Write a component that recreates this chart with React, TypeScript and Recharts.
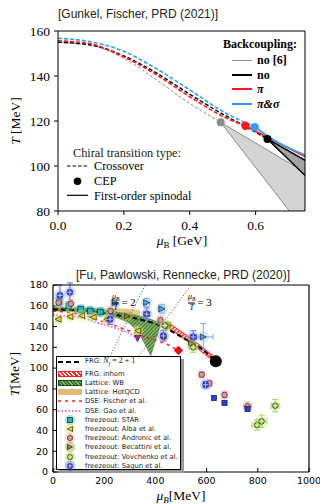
import { ComposedChart, Line, Area, Scatter, XAxis, YAxis, ErrorBar } from 'recharts';

const SERIF = '"Liberation Serif", "DejaVu Serif", serif';
const SANS = '"DejaVu Sans", sans-serif';
const TITLE = '"Liberation Sans", Arial, sans-serif';

// ---- top panel (Gunkel, Fischer), mu in GeV, T in MeV
const gevTicks = [0, 0.2, 0.4, 0.6];
const tTicksTop = [80, 100, 120, 140, 160];

const crossNo6 = [
  { mu: 0, T: 155 }, { mu: 0.095, T: 153.8 }, { mu: 0.196, T: 148.2 },
  { mu: 0.297, T: 138.5 }, { mu: 0.398, T: 128 }, { mu: 0.494, T: 119.4 },
];
const crossNo = [
  { mu: 0, T: 155 }, { mu: 0.095, T: 153.9 }, { mu: 0.196, T: 149.2 }, { mu: 0.297, T: 141.5 },
  { mu: 0.398, T: 132.1 }, { mu: 0.5, T: 123.1 }, { mu: 0.57, T: 117.5 }, { mu: 0.636, T: 112 },
];
const crossPi = [
  { mu: 0, T: 155.6 }, { mu: 0.095, T: 154.4 }, { mu: 0.196, T: 148.8 }, { mu: 0.297, T: 140.7 },
  { mu: 0.398, T: 131 }, { mu: 0.5, T: 122.1 }, { mu: 0.569, T: 117.9 },
];
const crossPiSigma = [
  { mu: 0, T: 156.8 }, { mu: 0.095, T: 155.3 }, { mu: 0.196, T: 151.2 }, { mu: 0.297, T: 143.4 },
  { mu: 0.398, T: 134 }, { mu: 0.5, T: 124.3 }, { mu: 0.597, T: 117.3 },
];
const spinPi = [{ mu: 0.569, T: 117.9 }, { mu: 0.636, T: 112.7 }, { mu: 0.75, T: 104.3 }];
const spinPiSigma = [{ mu: 0.597, T: 117.3 }, { mu: 0.652, T: 111.8 }, { mu: 0.75, T: 104.9 }];
const spinNoUpper = [{ mu: 0.636, T: 112 }, { mu: 0.75, T: 102.6 }];
const spinNoLower = [{ mu: 0.636, T: 112 }, { mu: 0.75, T: 95.8 }];
const bandNo6 = [{ mu: 0.494, lo: 119.4, hi: 119.4 }, { mu: 0.75, lo: 71, hi: 97.2 }];
const bandNo = [{ mu: 0.636, lo: 112, hi: 112 }, { mu: 0.75, lo: 95.8, hi: 102.6 }];

// ---- bottom panel (Fu, Pawlowski, Rennecke), mu in MeV
const mevTicks = [0, 200, 400, 600, 800, 1000];
const tTicksBot = [0, 20, 40, 60, 80, 100, 120, 140, 160, 180];

const ratio2 = [{ mu: 0, T: 0 }, { mu: 360, T: 180 }];
const ratio3 = [{ mu: 0, T: 0 }, { mu: 540, T: 180 }];
const frgLine = [
  { mu: 0, T: 156.5 }, { mu: 120, T: 155.3 }, { mu: 250, T: 151 }, { mu: 330, T: 147.5 },
  { mu: 418, T: 141 }, { mu: 509, T: 129 }, { mu: 575, T: 119.5 }, { mu: 636, T: 106.5 },
];
const frgCep = [{ mu: 636, T: 106.5 }];
const frgInhom = [
  { mu: 452, lo: 138.5, hi: 143.5 }, { mu: 540, lo: 123.5, hi: 128.5 }, { mu: 628, lo: 106.5, hi: 111.5 },
];
const wbBand = [
  { mu: 0, lo: 155.5, hi: 158.5 }, { mu: 150, lo: 154, hi: 157.5 }, { mu: 250, lo: 149, hi: 154 },
  { mu: 300, lo: 143, hi: 152 }, { mu: 340, lo: 132, hi: 150 }, { mu: 382, lo: 112, hi: 147 },
  { mu: 418, lo: 140, hi: 144 },
];
const hotqcdBand = [
  { mu: 0, lo: 154, hi: 159.5 }, { mu: 100, lo: 153, hi: 159 }, { mu: 200, lo: 150, hi: 158 },
  { mu: 280, lo: 146, hi: 157.5 }, { mu: 340, lo: 142, hi: 156 },
];
const dseFischer = [
  { mu: 0, T: 155 }, { mu: 100, T: 152 }, { mu: 200, T: 144.5 }, { mu: 262, T: 139 },
  { mu: 366, T: 129.5 }, { mu: 444, T: 123 }, { mu: 490, T: 117 },
];
const dseFischerCep = [{ mu: 490, T: 117 }];
const dseGao = [
  { mu: 0, T: 151 }, { mu: 100, T: 149 }, { mu: 183, T: 143 }, { mu: 250, T: 138 },
  { mu: 288, T: 134.5 }, { mu: 330, T: 128.5 },
];
const dseGaoCep = [{ mu: 330, T: 128.5 }];

const starPts = [
  { mu: 24, T: 164, dMu: 4, dT: 4 }, { mu: 62, T: 160, dMu: 4, dT: 4 }, { mu: 108, T: 156.5, dMu: 5, dT: 4 },
  { mu: 145, T: 155, dMu: 6, dT: 4 }, { mu: 185, T: 154, dMu: 7, dT: 4 },
];
const albaPts = [
  { mu: 20, T: 147, dMu: 3, dT: 2 }, { mu: 66, T: 149.5, dMu: 3, dT: 2 }, { mu: 112, T: 150.5, dMu: 3, dT: 2 },
  { mu: 157, T: 149, dMu: 4, dT: 2 }, { mu: 210, T: 147, dMu: 4, dT: 2 }, { mu: 331, T: 136, dMu: 6, dT: 3 },
];
const andronicPts = [
  { mu: 22, T: 163, dMu: 4, dT: 4 }, { mu: 70, T: 162, dMu: 4, dT: 4 }, { mu: 225, T: 155, dMu: 6, dT: 4 },
  { mu: 420, T: 146, dMu: 8, dT: 4 }, { mu: 432, T: 130, dMu: 8, dT: 4 }, { mu: 581, T: 93.7, dMu: 8, dT: 3 },
  { mu: 611, T: 85.4, dMu: 8, dT: 3 }, { mu: 670, T: 74.1, dMu: 8, dT: 3 }, { mu: 760, T: 63.2, dMu: 15, dT: 4 },
];
const becattiniPts = [
  { mu: 290, T: 150, dMu: 5, dT: 3 }, { mu: 450, T: 141, dMu: 8, dT: 3 }, { mu: 540, T: 124, dMu: 8, dT: 4 },
];
const vovchenkoPts = [
  { mu: 437, T: 141, dMu: 12, dT: 4 }, { mu: 548, T: 120, dMu: 15, dT: 5 }, { mu: 797, T: 45.2, dMu: 20, dT: 5 },
  { mu: 815, T: 48.8, dMu: 20, dT: 6 }, { mu: 868, T: 63.8, dMu: 15, dT: 6 },
];
const sagunPts = [
  { mu: 27, T: 170, dMu: 4, dT: 10 }, { mu: 66, T: 173, dMu: 3, dT: 9 }, { mu: 223, T: 147, dMu: 8, dT: 5 },
  { mu: 366, T: 152, dMu: 12, dT: 6 }, { mu: 431, T: 131, dMu: 10, dT: 5 }, { mu: 548, T: 130, dMu: 12, dT: 6 },
  { mu: 596, T: 84, dMu: 8, dT: 3 },
];
const blueSquarePts = [{ mu: 629, T: 71.2, dMu: 0, dT: 0 }, { mu: 670, T: 66.4, dMu: 0, dT: 0 }, { mu: 760, T: 60.6, dMu: 0, dT: 0 }];
const lightBluePts = [
  { mu: 242, T: 163, dMu: 6, dT: 3 }, { mu: 366, T: 163, dMu: 12, dT: 4 },
  { mu: 425, T: 157, dMu: 10, dT: 4 }, { mu: 587, T: 130, dMu: 38, dT: 13 },
];

const legendRows = [
  'FRG', 'FRG: inhom', 'Lattice: WB', 'Lattice: HotQCD', 'DSE: Fischer et al.', 'DSE: Gao et al.',
  'freezeout: STAR', 'freezeout: Alba et al.', 'freezeout: Andronic et al.', 'freezeout: Becattini et al.',
  'freezeout: Vovchenko et al.', 'freezeout: Sagun et al.',
];

const Mark = ({ kind, x, y, fill, r = 3, halo }: any) => {
  const st = { fill, stroke: '#222', strokeWidth: 0.7 };
  let m: any;
  if (kind === 'square') m = <rect x={x - r} y={y - r} width={2 * r} height={2 * r} {...st} />;
  else if (kind === 'triL') m = <polygon points={`${x - r},${y} ${x + r},${y - r} ${x + r},${y + r}`} {...st} />;
  else if (kind === 'triR') m = <polygon points={`${x + r},${y} ${x - r},${y - r} ${x - r},${y + r}`} {...st} />;
  else if (kind === 'triD') m = <polygon points={`${x - r},${y - r} ${x + r},${y - r} ${x},${y + r}`} {...st} />;
  else if (kind === 'diamond') m = <polygon points={`${x},${y - r} ${x + r},${y} ${x},${y + r} ${x - r},${y}`} fill={fill} stroke={fill} />;
  else if (kind === 'cross')
    m = (
      <g>
        <circle cx={x} cy={y} r={r} {...st} />
        <path d={`M${x - r},${y}H${x + r}M${x},${y - r}V${y + r}`} stroke="#fff" strokeWidth={0.6} />
      </g>
    );
  else m = <circle cx={x} cy={y} r={r} {...st} />;
  return (
    <g>
      {halo ? <circle cx={x} cy={y} r={r + 2.8} fill={halo} opacity={0.35} /> : null}
      {m}
    </g>
  );
};

const scatterSet = (data: any[], kind: string, fill: string, err: string, halo?: string, r = 3) => (
  <Scatter data={data} dataKey="T" isAnimationActive={false}
    shape={(p: any) => <Mark kind={kind} x={p.cx} y={p.cy} fill={fill} r={r} halo={halo} />}>
    <ErrorBar dataKey="dMu" direction="x" width={3} stroke={err} strokeWidth={1} />
    <ErrorBar dataKey="dT" direction="y" width={3} stroke={err} strokeWidth={1} />
  </Scatter>
);

const dot = (data: any[], color: string, r: number, kind = 'circle') => (
  <Scatter data={data} dataKey="T" isAnimationActive={false}
    shape={(p: any) =>
      kind === 'circle' ? <circle cx={p.cx} cy={p.cy} r={r} fill={color} /> : <Mark kind={kind} x={p.cx} y={p.cy} fill={color} r={r} />
    } />
);

const line = (data: any[], color: string, w: number, dash?: string, type: any = 'monotone') => (
  <Line data={data} dataKey="T" type={type} stroke={color} strokeWidth={w} strokeDasharray={dash}
    dot={false} activeDot={false} isAnimationActive={false} />
);

const txt = (left: number, top: number, style: any, content: any, center = false) => (
  <div style={{
    position: 'absolute', left, top, whiteSpace: 'nowrap', lineHeight: 1,
    transform: center ? 'translate(-50%,-50%)' : 'translateY(-50%)', ...style,
  }}>{content}</div>
);

const Frac = ({ n }: { n: string }) => (
  <span style={{ display: 'inline-flex', alignItems: 'center', fontFamily: SERIF, fontSize: 11 }}>
    <span style={{ display: 'inline-flex', flexDirection: 'column', alignItems: 'center', fontSize: 8, fontStyle: 'italic' }}>
      <span>μ<sub style={{ fontSize: 5.5 }}>B</sub></span>
      <span style={{ borderTop: '0.8px solid #000', width: '100%', textAlign: 'center', lineHeight: 1.1 }}>T</span>
    </span>
    <span style={{ marginLeft: 2 }}>= {n}</span>
  </span>
);

const Swatch = ({ i }: { i: number }) => {
  const w = 24, h = 8;
  let el: any = null;
  if (i === 0) el = <line x1={0} y1={4} x2={w} y2={4} stroke="#000" strokeWidth={2} strokeDasharray="5 3" />;
  else if (i === 4) el = <line x1={0} y1={4} x2={w} y2={4} stroke="#f22" strokeWidth={1.5} strokeDasharray="3 4" />;
  else if (i === 5) el = <line x1={0} y1={4} x2={w} y2={4} stroke="#e040e0" strokeWidth={1.5} strokeDasharray="1.5 2" />;
  else if (i >= 6) {
    const k = ['square', 'triL', 'circle', 'triR', 'cross', 'cross'][i - 6];
    const f = ['#22b8b8', '#e8e030', '#d89a9a', '#8a8a20', '#9acd32', '#3344ee'][i - 6];
    el = <Mark kind={k} x={12} y={4} fill={f} r={2.6} halo={f} />;
  }
  if (i >= 1 && i <= 3) {
    const bg = [
      'repeating-linear-gradient(45deg,#ff2020 0 1.5px,#fff 1.5px 3px)',
      'repeating-linear-gradient(45deg,#2f6f2f 0 1.5px,#8fbf5f 1.5px 2.5px)',
      '#e2bb78',
    ][i - 1];
    return <div style={{ width: w, height: 6, background: bg, border: i < 3 ? `1px solid ${i === 1 ? '#f22' : '#1f4f1f'}` : 'none', boxSizing: 'border-box' }} />;
  }
  return <svg width={w} height={h} style={{ overflow: 'visible', display: 'block' }}>{el}</svg>;
};

const rowY = [5, 16.7, 25.9, 35.1, 44.3, 53.5, 62.7, 71.9, 81.1, 90.3, 99.5, 108.7];

export default function App() {
  const axisTxtTop = { fill: '#000', fontFamily: SERIF, fontSize: 13.5 };
  const axisTxtBot = { fill: '#000', fontFamily: SANS, fontSize: 9.5 };
  return (
    <div style={{ position: 'absolute', left: 0, top: 0, width: 320, height: 504, background: '#fff', overflow: 'hidden' }}>
      <div style={{ position: 'absolute', left: 0, top: 0 }}>
        <ComposedChart width={320} height={250} margin={{ top: 30, right: 14, bottom: 9, left: 0 }}>
          <XAxis dataKey="mu" type="number" domain={[0, 0.75]} ticks={gevTicks} allowDataOverflow
            tickFormatter={(v: number) => v.toFixed(1)} height={30} tickSize={4} tickMargin={5}
            axisLine={{ stroke: '#000' }} tickLine={{ stroke: '#000' }} tick={axisTxtTop} />
          <YAxis type="number" domain={[80, 160]} ticks={tTicksTop} allowDataOverflow width={58}
            tickSize={4} tickMargin={4} axisLine={{ stroke: '#000' }} tickLine={{ stroke: '#000' }} tick={axisTxtTop} />
          <XAxis xAxisId="t" orientation="top" type="number" domain={[0, 0.75]} height={1} tick={false}
            tickLine={false} axisLine={{ stroke: '#000' }} />
          <YAxis yAxisId="r" orientation="right" type="number" domain={[80, 160]} width={1} tick={false}
            tickLine={false} axisLine={{ stroke: '#000' }} />
          <Area data={bandNo6} dataKey={(d: any) => [d.lo, d.hi]} type="linear" fill="#d4d4d4" fillOpacity={1}
            stroke="#8a8a8a" strokeWidth={1} isAnimationActive={false} />
          <Area data={bandNo} dataKey={(d: any) => [d.lo, d.hi]} type="linear" fill="#a3a3a3" fillOpacity={1}
            stroke="#000" strokeWidth={1.1} isAnimationActive={false} />
          {line(crossNo6, '#8c8c8c', 1, '3 2')}
          {line(crossNo, '#000', 1.4, '4 2')}
          {line(crossPi, '#f21a1a', 1.6, '4 2')}
          {line(crossPiSigma, '#3399ff', 1.6, '4 2')}
          {line(spinPi, '#f21a1a', 1.8)}
          {line(spinPiSigma, '#3399ff', 1.8)}
          {line(spinNoUpper, '#000', 1.1, undefined, 'linear')}
          {line(spinNoLower, '#000', 1.1, undefined, 'linear')}
          {dot([crossNo6[crossNo6.length - 1]], '#8c8c8c', 4)}
          {dot([crossPi[crossPi.length - 1]], '#f21a1a', 4.2)}
          {dot([crossPiSigma[crossPiSigma.length - 1]], '#3399ff', 4.2)}
          {dot([crossNo[crossNo.length - 1]], '#000', 4)}
        </ComposedChart>
      </div>

      <div style={{ position: 'absolute', left: 0, top: 250 }}>
        <ComposedChart width={320} height={254} margin={{ top: 34, right: 10, bottom: 0, left: 0 }}>
          <defs>
            <pattern id="hatchRed" width="3" height="3" patternUnits="userSpaceOnUse" patternTransform="rotate(45)">
              <rect width="3" height="3" fill="#fff" />
              <rect width="1.5" height="3" fill="#ff2020" />
            </pattern>
            <pattern id="hatchGreen" width="2.6" height="2.6" patternUnits="userSpaceOnUse" patternTransform="rotate(45)">
              <rect width="2.6" height="2.6" fill="#2f6f2f" />
              <rect width="1" height="2.6" fill="#9cc860" />
            </pattern>
          </defs>
          <XAxis dataKey="mu" type="number" domain={[0, 1000]} ticks={mevTicks} allowDataOverflow height={32}
            tickSize={-4} tickMargin={9} axisLine={{ stroke: '#000', strokeWidth: 1.2 }}
            tickLine={{ stroke: '#000' }} tick={axisTxtBot} />
          <YAxis type="number" domain={[0, 180]} ticks={tTicksBot} allowDataOverflow width={53}
            tickSize={-4} tickMargin={9} axisLine={{ stroke: '#000', strokeWidth: 1.2 }}
            tickLine={{ stroke: '#000' }} tick={axisTxtBot} />
          <XAxis xAxisId="t" orientation="top" type="number" domain={[0, 1000]} ticks={mevTicks} height={1}
            tick={false} tickSize={-4} axisLine={{ stroke: '#000', strokeWidth: 1.2 }} tickLine={{ stroke: '#000' }} />
          <YAxis yAxisId="r" orientation="right" type="number" domain={[0, 180]} ticks={tTicksBot} width={1}
            tick={false} tickSize={-4} axisLine={{ stroke: '#000', strokeWidth: 1.2 }} tickLine={{ stroke: '#000' }} />
          {line(ratio2, '#444', 1, '1 2', 'linear')}
          {line(ratio3, '#444', 1, '1 2', 'linear')}
          <Area data={hotqcdBand} dataKey={(d: any) => [d.lo, d.hi]} type="monotone" fill="#e0b46c" fillOpacity={0.75}
            stroke="none" isAnimationActive={false} />
          <Area data={wbBand} dataKey={(d: any) => [d.lo, d.hi]} type="linear" fill="url(#hatchGreen)" fillOpacity={0.9}
            stroke="#3b7a3b" strokeWidth={0.5} isAnimationActive={false} />
          {line(dseGao, '#e040e0', 1.5, '1.5 2')}
          {line(dseFischer, '#f22', 1.5, '3 4')}
          <Area data={frgInhom} dataKey={(d: any) => [d.lo, d.hi]} type="linear" fill="url(#hatchRed)" fillOpacity={1}
            stroke="#f22" strokeWidth={1} isAnimationActive={false} />
          {scatterSet(lightBluePts, 'triR', '#5aa0e0', '#6ab0e8', '#8cc4f0', 3)}
          {scatterSet(starPts, 'square', '#22b8b8', '#30c8d0', '#60d8d8', 2.8)}
          {scatterSet(albaPts, 'triL', '#e8e030', '#c8c830', '#f0ec80', 3)}
          {scatterSet(andronicPts, 'circle', '#d89a9a', '#e8a8a8', '#f0c0c0', 2.8)}
          {scatterSet(becattiniPts, 'triR', '#8a8a20', '#a0a040', '#c0c060', 2.8)}
          {scatterSet(vovchenkoPts, 'cross', '#9acd32', '#a8d860', '#c0e080', 2.8)}
          {scatterSet(sagunPts, 'cross', '#3344ee', '#5566ff', '#8090ff', 3)}
          {dot(blueSquarePts, '#2a3ae8', 2.6, 'square')}
          {dot(dseGaoCep, '#b0209a', 3.2, 'triD')}
          {line(frgLine, '#000', 2, '5 3')}
          {dot(dseFischerCep, '#e81010', 4.2, 'diamond')}
          {dot(frgCep, '#000', 6)}
        </ComposedChart>
      </div>

      {/* top panel text */}
      {txt(58, 14, { fontFamily: TITLE, fontSize: 12, color: '#222' }, '[Gunkel, Fischer, PRD (2021)]')}
      {txt(16, 121, { fontFamily: SERIF, fontSize: 13.5, transform: 'translate(-50%,-50%) rotate(-90deg)' },
        <span><i>T</i> [MeV]</span>)}
      {txt(182, 242, { fontFamily: SERIF, fontSize: 13.5 }, <span><i>μ</i><sub style={{ fontSize: 9 }}>B</sub> [GeV]</span>, true)}
      {txt(223, 44, { fontFamily: SERIF, fontSize: 12, fontWeight: 'bold' }, 'Backcoupling:')}
      {[
        ['#8c8c8c', 1, 'no [6]'], ['#000', 1.5, 'no'], ['#f21a1a', 2, 'π'], ['#3399ff', 2, 'π&σ'],
      ].map(([c, w, l]: any, i) => (
        <div key={l}>
          <div style={{ position: 'absolute', left: 232, top: [60, 75, 89.3, 104][i] - w / 2, width: 20, height: w, background: c }} />
          {txt(257, [60, 75, 89.3, 104][i], { fontFamily: SERIF, fontSize: 12, fontWeight: 'bold', fontStyle: i > 1 ? 'italic' : 'normal' }, l)}
        </div>
      ))}
      {txt(73, 153, { fontFamily: SERIF, fontSize: 12.3, color: '#222' }, 'Chiral transition type:')}
      <svg style={{ position: 'absolute', left: 66, top: 160 }} width={24} height={40}>
        <line x1={1} y1={6} x2={22} y2={6} stroke="#000" strokeWidth={1.2} strokeDasharray="3.5 2" />
        <circle cx={11.5} cy={21.3} r={3.8} fill="#000" />
        <line x1={1} y1={35.3} x2={22} y2={35.3} stroke="#000" strokeWidth={1.2} />
      </svg>
      {txt(94, 166, { fontFamily: SERIF, fontSize: 12.3 }, 'Crossover')}
      {txt(94, 181, { fontFamily: SERIF, fontSize: 12.3 }, 'CEP')}
      {txt(94, 195.5, { fontFamily: SERIF, fontSize: 12.3 }, 'First-order spinodal')}

      {/* bottom panel text */}
      {txt(183, 275, { fontFamily: TITLE, fontSize: 12, color: '#222' }, '[Fu, Pawlowski, Rennecke, PRD (2020)]', true)}
      {txt(112, 299, {}, <Frac n="2" />)}
      {txt(188, 299, {}, <Frac n="3" />)}
      {txt(15, 374, { fontFamily: SERIF, fontSize: 13.5, transform: 'translate(-50%,-50%) rotate(-90deg)' },
        <span><i>T</i>[MeV]</span>)}
      {txt(181, 497, { fontFamily: SERIF, fontSize: 13.5 }, <span><i>μ<sub style={{ fontSize: 9 }}>B</sub></i>[MeV]</span>, true)}

      <div style={{
        position: 'absolute', left: 56, top: 356, width: 125, height: 114, background: '#fff',
        border: '1px solid #000', boxSizing: 'border-box', boxShadow: '3px 3px 0 #9a9a9a',
      }}>
        {legendRows.map((l, i) => (
          <div key={l}>
            <div style={{ position: 'absolute', left: 1, top: rowY[i] - 4, width: 24, height: 8, display: 'flex', alignItems: 'center' }}>
              <Swatch i={i} />
            </div>
            {txt(28, rowY[i], { fontFamily: SANS, fontSize: 6.8, color: '#222' },
              i === 0 ? <span>FRG: <i style={{ fontFamily: SERIF, fontSize: 8 }}>N<sub style={{ fontSize: 5.5 }}>f</sub></i><span style={{ fontFamily: SERIF, fontSize: 8 }}> = 2 + 1</span></span> : l)}
          </div>
        ))}
      </div>
    </div>
  );
}
